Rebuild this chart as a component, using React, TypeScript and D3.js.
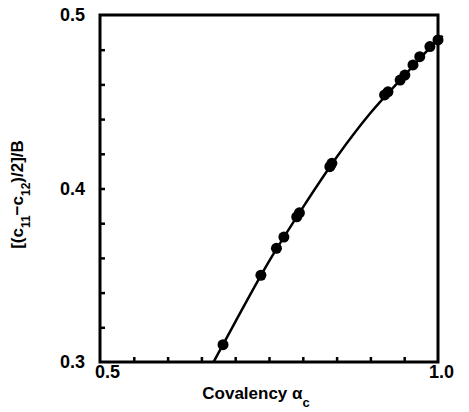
import React, { useRef, useEffect } from 'react';
import * as d3 from 'd3';

// measured points (covalency alpha_c, [(c11-c12)/2]/B)
const pointX = [0.682, 0.738, 0.761, 0.772, 0.791, 0.795, 0.840, 0.843, 0.921, 0.926, 0.944, 0.951, 0.963, 0.973, 0.988, 1.0];
const pointY = [0.310, 0.350, 0.3655, 0.372, 0.3837, 0.386, 0.4126, 0.4145, 0.4539, 0.4557, 0.4625, 0.4654, 0.4712, 0.476, 0.4818, 0.4856];

// fitted curve
const curveX = [0.668, 0.70, 0.75, 0.80, 0.85, 0.90, 0.95, 1.0, 1.007];
const curveY = [0.300, 0.323, 0.358, 0.389, 0.418, 0.4435, 0.465, 0.4856, 0.488];

const xLabelTicks = [0.5, 1.0];
const yLabelTicks = [0.3, 0.4, 0.5];
const xMinorTicks = [0.55, 0.6, 0.65, 0.7, 0.75, 0.8, 0.85, 0.9, 0.95];
const yMinorTicks = [0.32, 0.34, 0.36, 0.38, 0.4, 0.42, 0.44, 0.46, 0.48];

const W = 469;
const H = 412;
const FONT = '"Liberation Sans", Arial, sans-serif';

const App = () => {
  const ref = useRef<SVGSVGElement>(null);

  useEffect(() => {
    const svg = d3.select(ref.current);
    svg.selectAll('*').remove();

    const left = 100, right = 438, top = 15, bottom = 362;
    const x = d3.scaleLinear().domain([0.5, 1.0]).range([left, right]);
    const y = d3.scaleLinear().domain([0.3, 0.5]).range([bottom, top]);

    svg.append('rect').attr('width', W).attr('height', H).attr('fill', '#fff');

    // frame
    svg.append('rect')
      .attr('x', left).attr('y', top)
      .attr('width', right - left).attr('height', bottom - top)
      .attr('fill', 'none').attr('stroke', '#000').attr('stroke-width', 3);

    // minor inward ticks
    const xAxis = svg.append('g').attr('transform', `translate(0,${bottom})`)
      .call(d3.axisBottom(x).tickValues(xMinorTicks).tickSize(-5).tickFormat(() => ''));
    const yAxis = svg.append('g').attr('transform', `translate(${left},0)`)
      .call(d3.axisLeft(y).tickValues(yMinorTicks).tickSize(-5).tickFormat(() => ''));
    [xAxis, yAxis].forEach(a => {
      a.select('.domain').remove();
      a.selectAll('line').attr('stroke', '#000').attr('stroke-width', 2.5);
    });

    // tick labels
    const xl = svg.append('g').attr('transform', `translate(0,${bottom})`)
      .call(d3.axisBottom(x).tickValues(xLabelTicks).tickSize(0).tickPadding(3).tickFormat(d3.format('.1f')));
    const yl = svg.append('g').attr('transform', `translate(${left},0)`)
      .call(d3.axisLeft(y).tickValues(yLabelTicks).tickSize(0).tickPadding(15).tickFormat(d3.format('.1f')));
    [xl, yl].forEach(a => {
      a.select('.domain').remove();
      a.selectAll('text')
        .attr('fill', '#000')
        .style('font-family', FONT)
        .style('font-size', '18px')
        .style('font-weight', 'bold');
    });
    xl.selectAll('text').attr('dx', (d: any) => (d === 0.5 ? 7 : 3));

    // curve
    const line = d3.line<number>()
      .x((_, i) => x(curveX[i]))
      .y(d => y(d))
      .curve(d3.curveMonotoneX);
    svg.append('path')
      .datum(curveY)
      .attr('d', line)
      .attr('fill', 'none')
      .attr('stroke', '#000')
      .attr('stroke-width', 2.5);

    // points
    svg.append('g').selectAll('circle')
      .data(pointY)
      .enter()
      .append('circle')
      .attr('cx', (_, i) => x(pointX[i]))
      .attr('cy', d => y(d))
      .attr('r', 5.5)
      .attr('fill', '#000');

    // axis titles
    svg.append('text')
      .attr('x', 256).attr('y', 399)
      .attr('text-anchor', 'middle')
      .style('font-family', FONT).style('font-size', '17px').style('font-weight', 'bold')
      .call(t => {
        t.append('tspan').text('Covalency α');
        t.append('tspan').attr('baseline-shift', 'sub').style('font-size', '13px').text('c');
      });

    const yt = svg.append('text')
      .attr('transform', `translate(23,${(top + bottom) / 2 + 6}) rotate(-90)`)
      .attr('text-anchor', 'middle')
      .style('font-family', FONT).style('font-size', '17px').style('font-weight', 'bold');
    yt.append('tspan').text('[(c');
    yt.append('tspan').attr('baseline-shift', 'sub').style('font-size', '12px').text('11');
    yt.append('tspan').text('−c');
    yt.append('tspan').attr('baseline-shift', 'sub').style('font-size', '12px').text('12');
    yt.append('tspan').text(')/2]/B');
  }, []);

  return (
    <svg ref={ref} width={W} height={H} style={{ position: 'absolute', left: 0, top: 0 }}></svg>
  );
};

export default App;
